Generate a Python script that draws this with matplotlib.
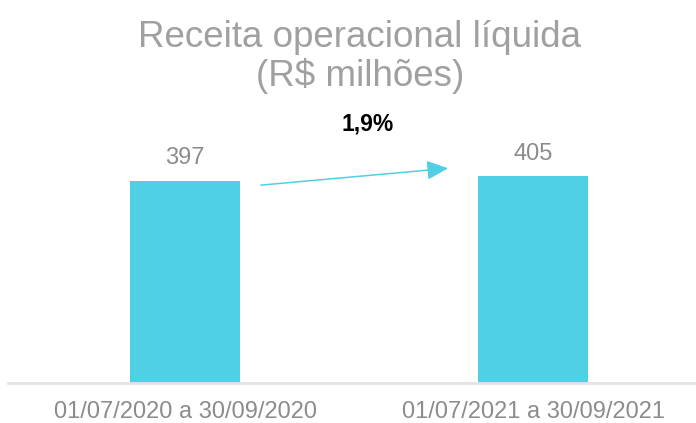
import matplotlib
matplotlib.use("Agg")
import matplotlib.pyplot as plt

categories = ["01/07/2020 a 30/09/2020", "01/07/2021 a 30/09/2021"]
values = [397, 405]
value_labels = ["397", "405"]
growth_label = "1,9%"
title = "Receita operacional líquida\n(R$ milhões)"

plt.rcParams['font.family'] = ['Liberation Sans', 'DejaVu Sans']

W, H = 696, 423
fig = plt.figure(figsize=(W / 100, H / 100), dpi=100)
ax = fig.add_axes([8 / W, (H - 383) / H, (W - 8) / W, 383 / H])

bar_color = "#4FD0E5"
x = [0, 1]
ax.bar(x, values, width=0.316, color=bar_color, zorder=2)
ax.set_xlim(-0.5086, 1.468)
ax.set_ylim(0, 751)

for xi, v, lab in zip(x, values, value_labels):
    ax.annotate(lab, (xi, v), xytext=(0, 16.5), textcoords="offset points",
                ha="center", va="center", fontsize=17, color="#8C8C8C")

ax.annotate("", xy=(0.756, 421), xytext=(0.218, 388),
            arrowprops=dict(arrowstyle="-|>,head_length=1.0,head_width=0.45",
                            color=bar_color, lw=1.1, shrinkA=0, shrinkB=0,
                            mutation_scale=13))
ax.text(0.526, 508, growth_label, ha="center", va="center", fontsize=16.5,
        fontweight="bold", color="black")

for s in ["top", "right", "left"]:
    ax.spines[s].set_visible(False)
ax.spines["bottom"].set_color("#E3E3E3")
ax.spines["bottom"].set_linewidth(2)
ax.set_yticks([])
ax.set_xticks(x)
ax.set_xticklabels(categories, fontsize=17, color="#8C8C8C")
ax.tick_params(axis="x", length=0, pad=13)

fig.text(360 / W, 1 - 57 / H, title, ha="center", va="center", fontsize=26.5,
         color="#A0A0A0", linespacing=1.1)

fig.savefig("out.png", dpi=100)
